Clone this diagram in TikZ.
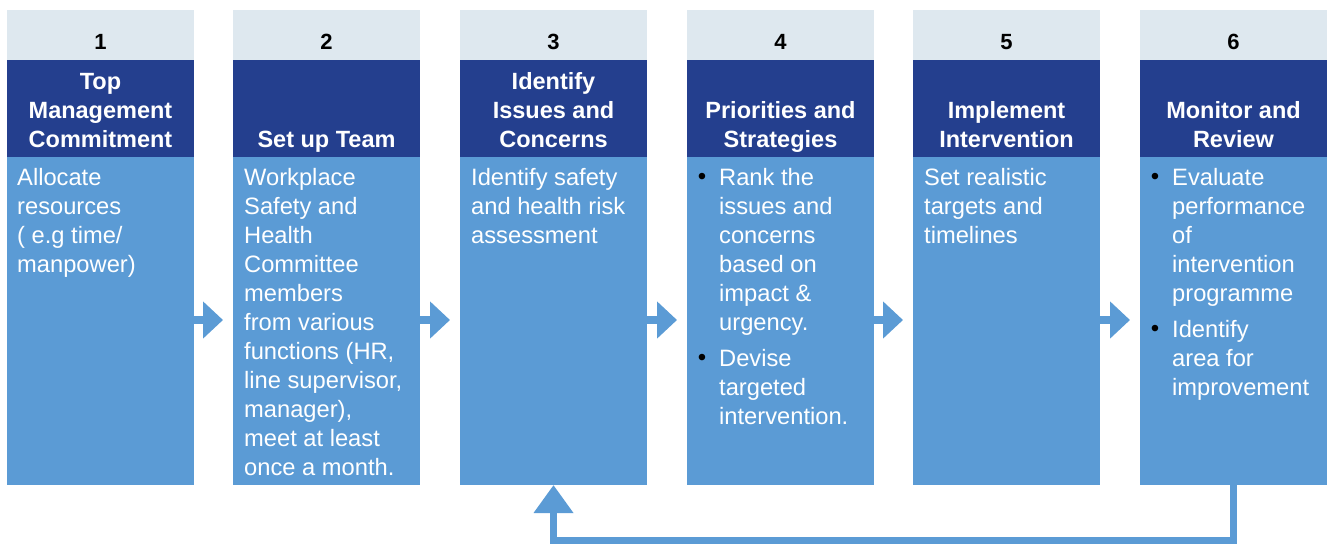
\documentclass[tikz,border=0pt]{standalone}
\usepackage{fontspec}
\setmainfont{Liberation Sans}
\usetikzlibrary{positioning,arrows.meta}
\definecolor{hdgray}{HTML}{DEE8EF}
\definecolor{navy}{HTML}{243F8E}
\definecolor{sky}{HTML}{5B9BD5}
\tikzset{
numbox/.style={fill=hdgray,minimum width=187pt,minimum height=50pt,inner sep=0pt,outer sep=0pt,anchor=north west},
titlebox/.style={fill=navy,minimum width=187pt,minimum height=97pt,inner sep=0pt,outer sep=0pt},
bodybox/.style={fill=sky,minimum width=187pt,minimum height=328pt,inner sep=0pt,outer sep=0pt},
numtxt/.style={font=\fontsize{22}{29}\selectfont\bfseries,inner sep=0pt,text depth=0pt},
ttltxt/.style={font=\fontsize{23.5}{29}\selectfont\bfseries,text=white,align=center,inner sep=0pt,text depth=0pt},
bodytxt/.style={font=\fontsize{23.7}{29}\selectfont,text=white,align=left,inner sep=0pt},
steparrow/.style={sky,line width=8pt,-{Triangle[width=36pt,length=20pt]},shorten >=10pt},
backline/.style={sky,line width=7pt,-{Triangle[width=38pt,length=28pt]}}
}
\newcommand{\bul}{\llap{\raisebox{1pt}{\textcolor{black}{\fontsize{24}{24}\selectfont\textbullet}}\hspace{13pt}}}

\begin{document}
\begin{tikzpicture}[x=1pt,y=-1pt]
\useasboundingbox (0,0) rectangle (1327,544);
%%% columns
\foreach \i/\x in {1/7,2/233,3/460,4/687,5/913,6/1140}
{
 \node[numbox] (hd\i) at (\x,10) {};
 \node[titlebox,below=0pt of hd\i] (tt\i) {};
 \node[bodybox,below=0pt of tt\i] (bd\i) {};
}
%%% numbers
\foreach \i in {1,...,6}
  \node[numtxt,above=10pt of hd\i.south] (num\i) {\i};
%%% titles
\node[ttltxt,above=9.5pt of tt1.south] (ttl1) {Top\\Management\\Commitment};
\node[ttltxt,above=9.5pt of tt2.south] (ttl2) {Set up Team};
\node[ttltxt,above=9.5pt of tt3.south] (ttl3) {Identify\\Issues and\\Concerns};
\node[ttltxt,above=9.5pt of tt4.south] (ttl4) {Priorities and\\Strategies};
\node[ttltxt,above=9.5pt of tt5.south] (ttl5) {Implement\\Intervention};
\node[ttltxt,above=9.5pt of tt6.south] (ttl6) {Monitor and\\Review};
%%% body texts
\node[bodytxt,below right=11pt and 10pt of bd1.north west] (txt1)
  {Allocate\\resources\\( e.g time/\\manpower)};
\node[bodytxt,below right=11pt and 11pt of bd2.north west] (txt2)
  {Workplace\\Safety and\\Health\\Committee\\members\\from various\\functions (HR,\\line supervisor,\\manager),\\meet at least\\once a month.};
\node[bodytxt,below right=11pt and 11pt of bd3.north west] (txt3)
  {Identify safety\\and health risk\\assessment};
\node[bodytxt,below right=11pt and 32pt of bd4.north west] (txt4)
  {\bul Rank the\\issues and\\concerns\\based on\\impact \&\\urgency.\\[7pt]\bul Devise\\targeted\\intervention.};
\node[bodytxt,below right=11pt and 11pt of bd5.north west] (txt5)
  {Set realistic\\targets and\\timelines};
\node[bodytxt,below right=11pt and 32pt of bd6.north west] (txt6)
  {\bul Evaluate\\performance\\of\\intervention\\programme\\[7pt]\bul Identify\\area for\\improvement};
%%% flow
\coordinate (mid) at (0,320);
\foreach \a/\b in {1/2,2/3,3/4,4/5,5/6}
  \draw[steparrow] (bd\a.east |- mid) -- (bd\b.west |- mid);
\draw[backline] (bd6.south) -- ++(0,55) -| (bd3.south);
\end{tikzpicture}
\end{document}
